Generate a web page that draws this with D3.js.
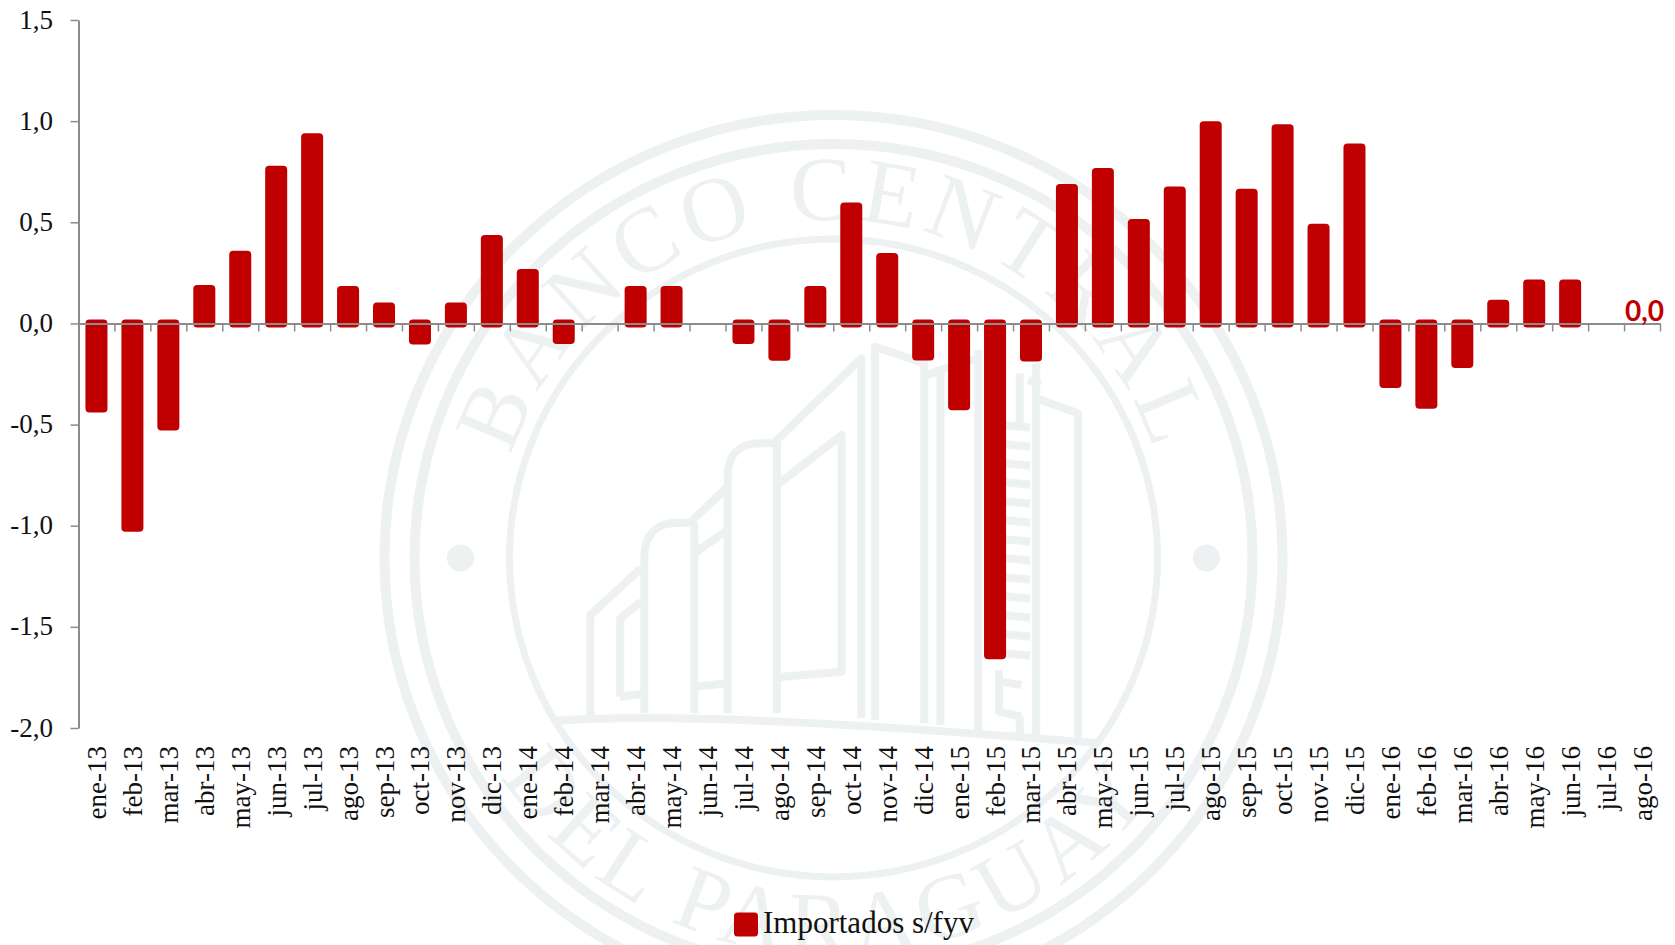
<!DOCTYPE html>
<html>
<head>
<meta charset="utf-8">
<title>Importados s/fyv</title>
<script src="https://cdn.jsdelivr.net/npm/d3@7"></script>
<style>
    html, body { margin: 0; padding: 0; background: #fff; }
    svg { display: block; }
    text { font-family: "Liberation Serif", serif; fill: #111; }
</style>
</head>
<body>
<svg id="chart"></svg>
<script>
// Data
const months = [
    "ene-13", "feb-13", "mar-13", "abr-13", "may-13", "jun-13", "jul-13", "ago-13", "sep-13", "oct-13", "nov-13", "dic-13",
    "ene-14", "feb-14", "mar-14", "abr-14", "may-14", "jun-14", "jul-14", "ago-14", "sep-14", "oct-14", "nov-14", "dic-14",
    "ene-15", "feb-15", "mar-15", "abr-15", "may-15", "jun-15", "jul-15", "ago-15", "sep-15", "oct-15", "nov-15", "dic-15",
    "ene-16", "feb-16", "mar-16", "abr-16", "may-16", "jun-16", "jul-16", "ago-16"
];
const importados = [
    -0.42, -1.01, -0.51, 0.17, 0.34, 0.76, 0.92, 0.165, 0.084, -0.084, 0.084, 0.417,
    0.249, -0.082, 0, 0.165, 0.165, 0, -0.082, -0.165, 0.165, 0.578, 0.328, -0.163,
    -0.409, -1.64, -0.168, 0.669, 0.748, 0.496, 0.657, 0.98, 0.646, 0.965, 0.473, 0.87,
    -0.30, -0.402, -0.20, 0.097, 0.198, 0.198, 0, 0
];
const yTicks = [-2, -1.5, -1, -0.5, 0, 0.5, 1, 1.5];
const legendLabel = "Importados s/fyv";
const lastLabel = "0,0";

const red = "#c00000";
const axisGrey = "#8c8c8c";
const sealColor = "#edf1f1";

const totalWidth = 1675, totalHeight = 945;
const plot = { left: 78.5, right: 1660, top: 20, bottom: 728 };

const svg = d3.select("#chart")
    .attr("width", totalWidth)
    .attr("height", totalHeight);

// Watermark of the bank, sits behind everything
const seal = svg.append("g").attr("id", "seal");
const cx = 833.5, cy = 558;

seal.selectAll("ellipse")
    .data([[449, 443, 10], [419, 414, 10], [324, 319, 7]])
    .enter()
    .append("ellipse")
    .attr("cx", cx)
    .attr("cy", cy)
    .attr("rx", d => d[0])
    .attr("ry", d => d[1])
    .attr("fill", "none")
    .attr("stroke", sealColor)
    .attr("stroke-width", d => d[2]);

seal.selectAll("circle")
    .data([-373, 373])
    .enter()
    .append("circle")
    .attr("cx", d => cx + d)
    .attr("cy", cy)
    .attr("r", 13.5)
    .attr("fill", sealColor);

const defs = svg.append("defs");
const arcPoint = (r, deg) => {
    const a = deg * Math.PI / 180;
    return [cx + r * Math.sin(a), cy - r * Math.cos(a)];
};
const topStart = arcPoint(338, -74), topEnd = arcPoint(338, 74);
defs.append("path").attr("id", "arcTop")
    .attr("d", `M${topStart} A338,338 0 0 1 ${topEnd}`);
const botStart = arcPoint(398, -124), botEnd = arcPoint(398, 124);
defs.append("path").attr("id", "arcBottom")
    .attr("d", `M${botStart} A398,398 0 0 0 ${botEnd}`);

[["#arcTop", "BANCO CENTRAL", 6.5, "50%"], ["#arcBottom", "DEL PARAGUAY", 6.6, "49%"]].forEach(([href, label, spacing, offset]) => {
    seal.append("text")
        .style("font-size", "92px")
        .style("fill", sealColor)
        .style("letter-spacing", spacing + "px")
        .append("textPath")
        .attr("href", href)
        .attr("startOffset", offset)
        .attr("text-anchor", "middle")
        .text(label);
});

// Building, traced in the crop's own coordinates
const building = seal.append("g")
    .attr("transform", "translate(560,330) scale(" + (1 / 2.904) + "," + (1 / 3) + ")")
    .attr("fill", "none")
    .attr("stroke", sealColor)
    .attr("stroke-linejoin", "round");

const buildingPaths = [
    "M-10,1172 C300,1150 800,1175 1568,1240",
    "M88,1160 V855 L235,715",
    "M245,1150 V680 C245,610 285,578 340,578 H378 L487,470",
    "M390,578 V1150",
    "M487,1150 V440 C487,370 525,340 580,340 H620 L875,85 V1165",
    "M630,340 V1150",
    "M175,1100 V865 L235,815",
    "M175,1100 L235,1092",
    "M390,670 L487,600",
    "M390,1070 L487,1060",
    "M630,465 L818,315 V1025 L630,1042",
    "M915,1170 V50 L1058,100 V1180",
    "M1058,140 L1105,120 V1185",
    "M1105,120 L1215,85",
    "M1215,60 V1200",
    "M1335,130 V280",
    "M1335,1160 V1225",
    "M1360,150 L1395,165",
    "M1383,100 V1215",
    "M1383,205 L1505,250 V1228",
    "M1275,1020 V1055 L1340,1065",
    "M1275,1055 V1145 L1340,1160"
];
d3.range(285, 1020, 57).forEach(yy => buildingPaths.push(`M1290,${yy} L1365,${yy + 8}`));

building.selectAll("path")
    .data(buildingPaths)
    .enter()
    .append("path")
    .attr("d", d => d)
    .attr("vector-effect", "non-scaling-stroke")
    .attr("stroke-width", 8);

// Scales
const x = d3.scaleBand()
    .domain(months)
    .range([plot.left, plot.right])
    .paddingInner(0.61)
    .paddingOuter(0.305);

const xTick = d3.scaleLinear()
    .domain([0, months.length])
    .range([plot.left, plot.right]);

const y = d3.scaleLinear()
    .domain([-2, 1.5])
    .range([plot.bottom, plot.top]);

// Bars, the thick round stroke gives the soft corners of the original
svg.append("g")
    .selectAll("rect")
    .data(months.map((m, i) => ({ month: m, value: importados[i] })).filter(d => d.value !== 0))
    .enter()
    .append("rect")
    .attr("x", d => x(d.month))
    .attr("y", d => y(Math.max(d.value, 0)))
    .attr("width", x.bandwidth())
    .attr("height", d => Math.abs(y(d.value) - y(0)))
    .attr("fill", red)
    .attr("stroke", red)
    .attr("stroke-width", 8)
    .attr("stroke-linejoin", "round");

// Y axis
const yAxis = svg.append("g")
    .attr("transform", "translate(" + plot.left + ",0)")
    .call(d3.axisLeft(y)
        .tickValues(yTicks)
        .tickSize(8)
        .tickSizeOuter(0)
        .tickPadding(17.5)
        .tickFormat(d => d.toFixed(1).replace(".", ",")));

yAxis.selectAll("text").style("font-size", "27px").attr("dy", "0.3em");

// Zero line with its ticks between the months
const zeroAxis = svg.append("g")
    .attr("transform", "translate(0," + y(0) + ")")
    .call(d3.axisBottom(xTick)
        .tickValues(d3.range(months.length + 1))
        .tickSize(8)
        .tickSizeOuter(0)
        .tickFormat(""));

[yAxis, zeroAxis].forEach(g => {
    g.selectAll("line").attr("stroke", axisGrey).attr("stroke-width", 1.5);
    g.select(".domain").attr("stroke", axisGrey).attr("stroke-width", 2);
});

// Month labels, rotated and hanging from a fixed line
const labelAxis = svg.append("g")
    .attr("transform", "translate(0,746)")
    .call(d3.axisBottom(x).tickSize(0).tickPadding(0));

labelAxis.select(".domain").remove();
labelAxis.selectAll("text")
    .style("font-size", "27px")
    .attr("text-anchor", "end")
    .attr("transform", "rotate(-90)")
    .attr("x", 0)
    .attr("y", 9.5)
    .attr("dy", 0);

// Last value label
svg.append("text")
    .attr("x", x(months[months.length - 1]) + x.bandwidth() / 2 + 2.5)
    .attr("y", 321)
    .attr("text-anchor", "middle")
    .style("font-family", "Lato, sans-serif")
    .style("font-weight", 700)
    .style("font-size", "28px")
    .style("fill", red)
    .text(lastLabel);

// Legend
svg.append("rect")
    .attr("x", 734)
    .attr("y", 912.5)
    .attr("width", 24)
    .attr("height", 24)
    .attr("rx", 3.5)
    .attr("fill", red);

svg.append("text")
    .attr("x", 763)
    .attr("y", 933)
    .style("font-size", "31px")
    .text(legendLabel);
</script>
</body>
</html>
